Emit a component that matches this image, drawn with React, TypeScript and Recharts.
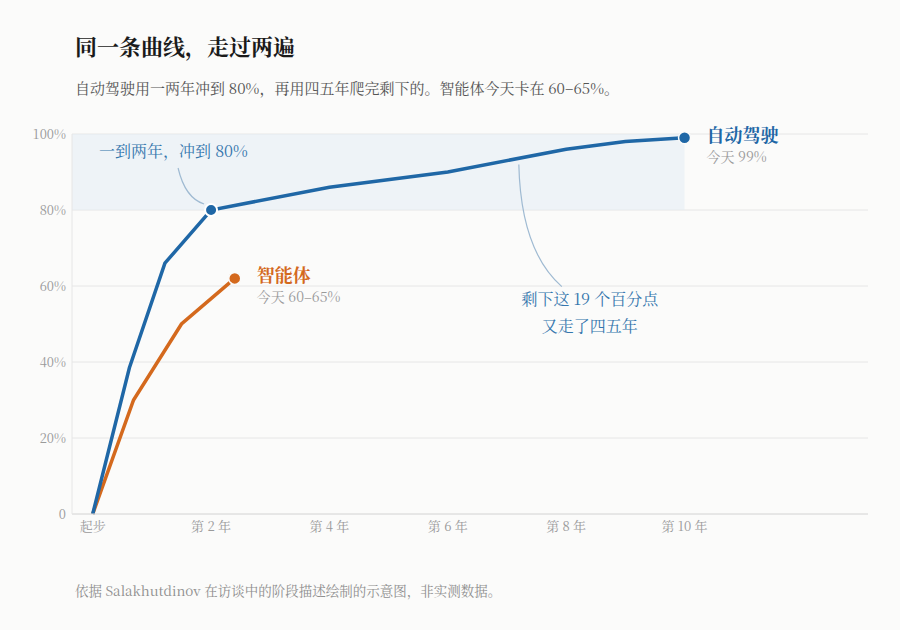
import { LineChart, Line, XAxis, YAxis, CartesianGrid, ReferenceArea, ReferenceDot, LabelList } from 'recharts'

const FONT = "'Noto Serif CJK SC', 'DejaVu Serif', serif"
const BLUE = '#1f67a6'
const ORANGE = '#d4691d'
const NOTE = '#3576ad'
const GRAY = '#9a9a9a'

// years since start / % capability
const autoYears = [0, 0.62, 1.22, 2, 4, 6, 8, 9, 10]
const autoValues = [0, 38.5, 66, 80, 86, 90, 96, 98, 99]
const agentYears = [0, 0.69, 1.5, 2.4]
const agentValues = [0, 30, 50, 62]

const xTicks = [0, 2, 4, 6, 8, 10]
const xTickLabels = ['起步', '第 2 年', '第 4 年', '第 6 年', '第 8 年', '第 10 年']
const yTicks = [0, 20, 40, 60, 80, 100]
const xDomain = [-0.35, 13.1]

const autoData = autoYears.map((x, i) => ({ x, y: autoValues[i] }))
const agentData = agentYears.map((x, i) => ({ x, y: agentValues[i] }))

function endLabel(name: string, sub: string, color: string, count: number) {
  return (props: any) => {
    if (props.index !== count - 1) return null
    const x = Number(props.x)
    const y = Number(props.y)
    return (
      <g>
        <text x={x + 22} y={y + 4} fill={color} fontSize={18} fontWeight={700} fontFamily={FONT}>{name}</text>
        <text x={x + 22} y={y + 24} fill={GRAY} fontSize={14} fontFamily={FONT}>{sub}</text>
      </g>
    )
  }
}

function endDot(color: string, count: number) {
  return (props: any) => {
    if (props.index !== count - 1) return <g key={props.index} />
    return <circle key={props.index} cx={props.cx} cy={props.cy} r={6} fill={color} stroke="#fbfbfa" strokeWidth={1.5} />
  }
}

export default function App() {
  return (
    <div style={{ position: 'absolute', left: 0, top: 0, width: 900, height: 630, background: '#fbfbfa', fontFamily: FONT }}>
      <div style={{ position: 'absolute', left: 75, top: 30, fontSize: 22, fontWeight: 700, color: '#1a1a1a' }}>同一条曲线，走过两遍</div>
      <div style={{ position: 'absolute', left: 75, top: 77, fontSize: 15, color: '#555' }}>
        自动驾驶用一两年冲到 80%，再用四五年爬完剩下的。智能体今天卡在 60–65%。
      </div>
      <div style={{ position: 'absolute', left: 75, top: 580, fontSize: 13.5, color: '#8f8f8f' }}>
        依据 Salakhutdinov 在访谈中的阶段描述绘制的示意图，非实测数据。
      </div>
      <div style={{ position: 'absolute', left: 0, top: 0 }}>
        <LineChart width={900} height={630} margin={{ top: 134, right: 32, bottom: 86, left: 0 }}>
          <CartesianGrid horizontal vertical={false} stroke="#e6e6e6" />
          <ReferenceArea y1={80} y2={100} x2={10} fill="#e3ecf4" fillOpacity={0.55} stroke="none" ifOverflow="visible" />
          <XAxis
            type="number"
            dataKey="x"
            domain={xDomain}
            ticks={xTicks}
            allowDataOverflow
            height={30}
            tickSize={0}
            tickMargin={8}
            stroke="#dcdcdc"
            tick={{ fill: GRAY, fontSize: 13, fontFamily: FONT }}
            tickFormatter={(v: number) => xTickLabels[xTicks.indexOf(v)] ?? ''}
          />
          <YAxis
            type="number"
            domain={[0, 100]}
            ticks={yTicks}
            width={72}
            tickSize={0}
            tickMargin={6}
            stroke="#e6e6e6"
            tick={{ fill: GRAY, fontSize: 13, fontFamily: FONT }}
            tickFormatter={(v: number) => (v === 0 ? '0' : `${v}%`)}
          />
          <Line
            data={agentData}
            dataKey="y"
            type="linear"
            stroke={ORANGE}
            strokeWidth={3.5}
            dot={endDot(ORANGE, agentData.length)}
            activeDot={false}
            isAnimationActive={false}
          >
            <LabelList dataKey="y" content={endLabel('智能体', '今天 60–65%', ORANGE, agentData.length)} />
          </Line>
          <Line
            data={autoData}
            dataKey="y"
            type="linear"
            stroke={BLUE}
            strokeWidth={3.5}
            dot={endDot(BLUE, autoData.length)}
            activeDot={false}
            isAnimationActive={false}
          >
            <LabelList dataKey="y" content={endLabel('自动驾驶', '今天 99%', BLUE, autoData.length)} />
          </Line>
          <ReferenceDot
            x={2}
            y={80}
            ifOverflow="visible"
            shape={(p: any) => (
              <g>
                <path d={`M${p.cx - 33},${p.cy - 42} Q${p.cx - 26},${p.cy - 12} ${p.cx - 7},${p.cy - 6}`} fill="none" stroke="#9fbad2" strokeWidth={1.2} />
                <circle cx={p.cx} cy={p.cy} r={6} fill={BLUE} stroke="#ffffff" strokeWidth={2} />
                <text x={p.cx - 112} y={p.cy - 53} fill={NOTE} fontSize={16} fontFamily={FONT}>一到两年，冲到 80%</text>
              </g>
            )}
          />
          <ReferenceDot
            x={7.2}
            y={93}
            ifOverflow="visible"
            shape={(p: any) => (
              <g>
                <path d={`M${p.cx},${p.cy + 4} Q${p.cx + 2},${p.cy + 90} ${p.cx + 43},${p.cy + 126}`} fill="none" stroke="#9fbad2" strokeWidth={1.2} />
                <text x={p.cx + 71} y={p.cy + 144} textAnchor="middle" fill={NOTE} fontSize={16} fontFamily={FONT}>剩下这 19 个百分点</text>
                <text x={p.cx + 71} y={p.cy + 171} textAnchor="middle" fill={NOTE} fontSize={16} fontFamily={FONT}>又走了四五年</text>
              </g>
            )}
          />
        </LineChart>
      </div>
    </div>
  )
}
